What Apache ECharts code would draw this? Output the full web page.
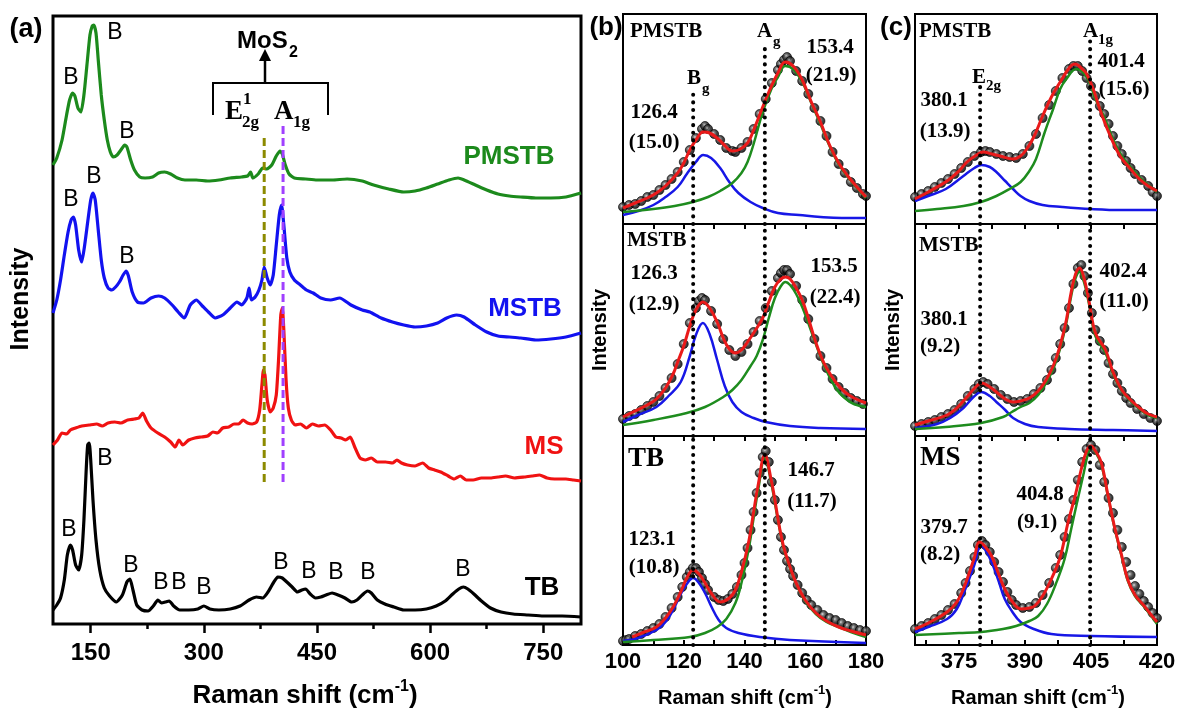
<!DOCTYPE html>
<html><head><meta charset="utf-8">
<script src="https://cdn.jsdelivr.net/npm/echarts@6/dist/echarts.min.js"></script>
<style>html,body{margin:0;padding:0;background:#fff}#c{width:1178px;height:711px}</style>
</head><body><div id="c"></div>
<script>
// ---------------- DATA ----------------
// Panel (a): Raman spectra, stacked (arbitrary offset intensity units)
const aTicks = [150, 300, 450, 600, 750];
const aMinorTicks = [225, 375, 525, 675];
const aPMSTB = [[100,459],[105,466],[112,484],[118,509],[122,524],[126,531],[129,528],[133,516],[137,512],[141,529],[145,559],[149,589],[152,598],[154,599],[157,591],[160,564],[164,529],[168,504],[172,484],[176,472],[180,467],[185,469],[190,474],[195,479],[198,477],[203,464],[208,454],[215,447],[222,446],[232,447],[240,451],[248,452],[256,450],[265,446],[275,444],[290,444],[305,443],[320,444],[335,446],[350,447],[358,448],[362,452],[365,446],[372,450],[378,456],[383,455],[390,459],[396,468],[401,473],[404,470],[408,459],[413,450],[420,446],[435,445],[450,444],[470,444],[490,445],[510,443],[525,439],[545,435],[565,432],[580,433],[595,436],[610,440],[625,444],[637,446],[645,444],[660,439],[675,434],[690,430],[705,428],[720,427],[740,426],[760,426],[780,427],[800,431]];
const aMSTB = [[100,311],[105,324],[110,344],[115,369],[120,392],[124,404],[127,407],[130,399],[134,374],[138,362],[142,379],[146,402],[150,424],[153,431],[156,424],[160,394],[164,364],[168,346],[173,336],[178,334],[183,337],[188,342],[193,349],[197,353],[200,348],[205,332],[212,322],[220,321],[230,326],[240,328],[248,326],[258,319],[266,312],[274,306],[282,319],[290,324],[298,318],[306,312],[315,306],[325,309],[335,316],[344,322],[350,319],[357,326],[360,336],[363,324],[368,327],[373,334],[377,344],[380,357],[384,346],[388,339],[392,349],[396,379],[400,409],[403,419],[406,399],[410,366],[414,352],[420,344],[428,339],[436,334],[445,331],[455,326],[468,324],[480,326],[495,319],[510,314],[520,312],[535,306],[550,302],[565,299],[580,297],[595,298],[610,301],[622,306],[635,309],[645,307],[660,299],[675,292],[690,288],[705,287],[720,286],[740,284],[760,285],[780,287],[800,291]];
const aMS = [[100,179],[106,184],[112,191],[118,190],[123,194],[130,196],[138,198],[148,199],[158,200],[165,198],[173,201],[182,202],[190,201],[199,204],[208,205],[214,206],[219,211],[224,203],[230,196],[239,191],[248,187],[256,182],[262,177],[267,184],[272,179],[280,184],[288,186],[296,187],[305,188],[312,192],[318,191],[325,196],[333,197],[340,200],[346,200],[352,204],[358,201],[364,200],[370,202],[374,214],[377,239],[379,254],[381,249],[384,224],[388,212],[392,216],[396,229],[399,264],[402,309],[404,316],[406,294],[409,244],[412,216],[416,204],[421,199],[428,200],[436,196],[444,200],[452,198],[460,199],[468,194],[475,187],[482,186],[488,184],[494,187],[500,177],[507,166],[514,164],[522,166],[530,162],[541,162],[550,161],[556,164],[562,161],[570,159],[580,158],[590,161],[598,156],[606,154],[614,152],[624,148],[632,145],[640,148],[648,144],[657,144],[668,146],[680,146],[690,147],[700,148],[712,146],[725,147],[735,148],[745,149],[755,146],[765,145],[780,145],[790,144],[800,143]];
const aTB = [[100,14],[105,19],[110,26],[115,44],[119,69],[123,79],[126,74],[130,59],[134,54],[138,69],[141,104],[144,154],[146,179],[148,181],[150,164],[153,124],[157,84],[162,54],[168,36],[175,28],[184,22],[192,29],[198,42],[202,45],[206,34],[211,19],[218,14],[226,13],[233,18],[239,24],[244,21],[249,22],[254,23],[260,18],[268,14],[280,14],[292,15],[300,18],[308,15],[320,14],[335,15],[348,18],[360,24],[370,27],[378,26],[385,32],[392,41],[398,47],[404,46],[410,42],[417,37],[424,32],[430,34],[435,35],[441,30],[448,26],[455,27],[462,29],[470,31],[478,29],[487,26],[496,22],[503,24],[510,29],[517,33],[522,31],[530,24],[540,20],[552,17],[565,14],[580,14],[595,15],[608,18],[620,23],[630,30],[638,35],[644,37],[650,35],[658,30],[668,23],[680,16],[694,12],[710,10],[730,9],[750,8],[775,8],[800,7]];
const aModeX = [380, 405];        // E2g, A1g mode positions (cm-1)
const aModeTop = [486, 502];      // top of the dashed guides
const aModeBottom = 142;

// Panel (b): 100-180 cm-1 fits
const bTicks = [110, 120, 130, 140, 150, 160, 170];
const bTickLabels = [100, 120, 140, 160, 180];
const bModeX = [123.1, 146.7];    // Bg, Ag
const bModeTop = [131, 179];
const bPmstbPts = [[100,17],[102,19],[104,20],[106,23],[108,27],[110,29],[112,34],[114,39],[116,45],[118,52],[120,62],[122,74],[124,86],[126,95],[127,98],[128,95],[130,90],[132,84],[134,76],[136,73],[137,72],[139,76],[141,82],[143,95],[145,110],[147,125],[149,141],[151,154],[152,160],[153,164],[154,167],[155,163],[157,153],[159,143],[161,130],[163,116],[165,103],[167,88],[169,72],[171,60],[173,51],[175,42],[177,36],[179,30],[180,28]];
const bPmstbRed = [[100,16],[104,21],[108,26],[111,31],[114,38],[118,51],[120,61],[122,74],[124,84],[126.4,92],[128.5,91],[131,86],[133,80],[136,73],[138,74],[141,81],[143,94],[146,117],[148,132],[151,151],[153.4,162],[156,158],[159,144],[162,122],[165,102],[168,79],[171,61],[174,48],[177,37],[180,27]];
const bPmstbBlue = [[100,9],[105,13],[110,19],[114,27],[118,37],[121,50],[124,62],[126.4,69],[129,66],[132,56],[135,42],[138,31],[142,22],[146,16],[151,11],[158,9],[165,7],[172,6],[180,6]];
const bPmstbGreen = [[100,12],[110,15],[117,18],[123,22],[128,27],[132,33],[136,41],[139,51],[141,62],[143,80],[146,112],[149,136],[151,147],[153.4,158],[156,155],[159,142],[162,121],[165,100],[168,78],[171,60],[174,47],[177,36],[180,26]];

const bMstbPts = [[100,17],[102,20],[104,22],[106,26],[108,30],[110,34],[112,40],[114,48],[116,58],[118,72],[120,92],[122,113],[124,128],[125,135],[126,138],[127,136],[129,125],[131,112],[133,97],[135,86],[137,80],[139,84],[141,92],[143,104],[145,115],[147,128],[149,145],[151,158],[152,163],[153,166],[154,166],[155,162],[157,150],[159,136],[161,117],[163,97],[165,80],[167,68],[169,57],[171,49],[173,43],[175,38],[177,35],[179,32]];
const bMstbRed = [[100,19],[104,25],[108,31],[111,37],[114,48],[116.5,62],[118,74],[120,90],[122,110],[124,126],[126.3,134],[128.5,128],[131,114],[133,98],[135,87],[137,83],[139,86],[141,94],[143,103],[146,118],[148,134],[150,149],[152,157],[153.5,159],[155,157],[157,148],[159,136],[161,118],[163,98],[165,81],[167,68],[170,54],[173,44],[176,38],[180,33]];
const bMstbBlue = [[100,14],[105,21],[111,29],[115,40],[119,54],[122,80],[124,101],[126.3,113],[128.5,102],[131,76],[133.5,50],[136,34],[139,24],[143,18],[147,14],[155,10],[165,8],[180,7]];
const bMstbGreen = [[100,11],[110,16],[121,23],[127,29],[133,39],[136,46],[139,56],[142,70],[144,80],[146,96],[148,118],[150,138],[152,150],[153.5,154],[155,151],[157,142],[159,129],[161,113],[163,96],[166,72],[170,48],[173,38],[176,32],[180,29]];

const bTbPts = [[100,4],[101,5],[102,6],[104,9],[106,11],[108,14],[110,17],[112,21],[114,28],[116,37],[118,48],[119.5,58],[121,68],[122,73],[123,77],[124,77],[125,73],[126,67],[127,61],[128,55],[130,48],[131.5,45],[133,44],[134.5,46],[136,51],[137.5,58],[139,70],[140,82],[141,97],[142,115],[143,133],[144,152],[145,172],[146,188],[147,194],[148,183],[149,163],[150,145],[151,125],[152,108],[153,95],[154,84],[155,76],[156,69],[157.5,60],[159,52],[160.5,45],[162,40],[164,35],[166,30],[168,27],[170,25],[172,22],[174,19],[176,17],[178,15],[180,14]];
const bTbRed = [[103,8],[107,13],[111,18],[114,27],[116.5,38],[119,53],[121,67],[123.1,75],[125,71],[127,62],[129,52],[132,43],[135,47],[137,55],[139,73],[141.5,105],[143,133],[144.5,160],[146.7,190],[148.8,165],[150,145],[151.5,118],[153,97],[155,78],[157,62],[160,45],[163.5,32],[167,24],[171,18],[175,14],[180,10]];
const bTbBlue = [[100,4],[105,7],[111,15],[114,23],[116.5,35],[119,51],[121,61],[123.1,67],[125,62],[127,52],[129,39],[131.5,25],[134,17],[138,12],[145,8],[155,5],[180,2]];
const bTbGreen = [[100,3],[110,5],[122,8],[127,12],[131,18],[134,26],[137,42],[139,62],[141.5,98],[143,127],[144.5,155],[146.7,187],[148.8,162],[150,142],[151.5,117],[153,95],[155,77],[157,61],[160,44],[163.5,31],[167,23],[171,18],[175,13],[180,8]];

// Panel (c): 365-420 cm-1 fits
const cTicks = [367.5, 375, 382.5, 390, 397.5, 405, 412.5];
const cTickLabels = [375, 390, 405, 420];
const cModeX = [379.8, 404.8];    // E2g, A1g
const cModeTop = [138, 183];
const cPmstbPts = [[365,27],[366.5,30],[368,33],[369.5,37],[371,41],[372.5,45],[374,50],[375.5,56],[377,62],[378.5,68],[380,72],[381,73],[382,72],[383.5,70],[385,68],[386.5,67],[388,66],[389.5,70],[391,78],[392.5,90],[394,106],[395.5,119],[397,133],[398.5,146],[400,155],[401,158],[402,158],[403,153],[404,146],[405,138],[406,128],[407,118],[408,110],[409,100],[410,88],[411,78],[412,70],[413,63],[414,56],[415,50],[416.5,44],[418,38],[419,32],[420,28]];
const cPmstbRed = [[365,25],[368,32],[372.3,43],[375,53],[376.8,62],[379,69],[380.5,72],[382.5,70],[384.3,68],[387.3,65],[389,68],[390.4,75],[392,87],[394,108],[396,127],[398,142],[400.2,157],[401.4,160],[403,155],[404,150],[405.5,135],[407,115],[409,92],[411.6,68],[414,55],[416,45],[418,38],[420,33]];
const cPmstbBlue = [[365,23],[368,28],[372,35],[376,48],[378.5,56],[380.1,59],[382,57],[383.5,52],[385.5,43],[387.3,35],[389,28],[391,23],[394,19],[398.5,17],[405,15],[412,14],[420,14]];
const cPmstbGreen = [[365,13],[370,15],[376,18],[380,22],[383.5,28],[386.5,35],[389,42],[391,53],[392.5,65],[394.5,92],[396.4,115],[398,135],[399.4,145],[401.6,155],[404,147],[406,125],[408,107],[410,85],[412,68],[414,57],[416,47],[418,39],[420,32]];

const cMstbPts = [[365,10],[366.5,12],[368,14],[369.5,16],[371,19],[372.5,22],[374,26],[375.5,32],[377,40],[378.5,47],[379.5,52],[380.5,54],[381.5,52],[383,47],[384.5,41],[386,37],[387.5,34],[389,35],[390.5,37],[392,42],[393.5,48],[395,56],[396,66],[397,78],[398,92],[399,108],[400,128],[401,152],[402,168],[402.8,171],[403.5,160],[404.3,143],[405.2,123],[406,106],[407,95],[408,86],[409,73],[410,62],[411,53],[412,45],[413,38],[414,33],[415.5,27],[417,22],[418.5,18],[420,15]];
const cMstbRed = [[365,11],[368,15],[372.3,21],[374.5,28],[376.8,39],[378.8,49],[380.1,53],[382,49],[383.5,44],[385.5,37],[387.3,34],[389,35],[391,38],[393,45],[394.8,56],[396.5,71],[397.9,89],[399.4,116],[400.5,144],[401.5,162],[402.4,168],[403.4,158],[404.5,136],[406,103],[408.3,86],[410,64],[412,46],[414,36],[416.6,26],[418,22],[420,19]];
const cMstbBlue = [[365,8],[370,12],[373,18],[376,28],[378.3,39],[380.1,44],[382,40],[383.5,34],[385.5,26],[387.3,18],[390,12],[393,9],[400,7],[410,6],[420,5]];
const cMstbGreen = [[365,7],[372,9],[380,13],[385,19],[387,24],[389,29],[391,33],[393,41],[394.8,53],[396.5,68],[397.9,86],[399.4,113],[400.5,140],[401.5,158],[402.4,164],[403.4,154],[404.5,133],[406,100],[408.3,83],[410,62],[412,45],[414,35],[416.6,25],[418,21],[420,18]];

const cMsPts = [[365,16],[366.5,19],[368,22],[369.5,26],[371,30],[372.5,35],[374,41],[375.5,52],[376.5,62],[377.5,74],[378.5,88],[379.3,100],[380.2,104],[381,100],[382,93],[383,83],[384,73],[385,63],[386,53],[387,45],[388,40],[389.5,37],[391,38],[392.5,42],[394,50],[395.5,62],[397,77],[398,90],[399,108],[400,126],[401,145],[402,165],[403,183],[404,196],[405,200],[406,195],[407,180],[408,163],[409,147],[410,132],[411,115],[412,98],[413,83],[414,70],[415,59],[416,51],[417,44],[418,38],[419,32],[420,27]];
const cMsRed = [[365,16],[368,22],[372.3,33],[374.5,43],[376,56],[378.4,86],[379.7,103],[381,98],[382.4,89],[384,71],[385.4,56],[387,44],[389.1,36],[391,37],[392.2,39],[394,49],[396,66],[398,88],[399.8,123],[401.5,151],[402.8,176],[404,194],[405,199],[406,194],[407.3,183],[408.8,151],[410.3,119],[412,89],[413.3,66],[415,50],[417.1,39],[418.5,31],[420,23]];
const cMsBlue = [[365,13],[368,18],[372.3,26],[374.5,36],[376,51],[378.4,79],[380,99],[381,95],[382.4,83],[384,64],[385.4,46],[387,34],[389,23],[392,16],[396,11],[405,9],[420,8]];
const cMsGreen = [[365,10],[375,12],[380,13],[385,16],[388,19],[391,24],[393,29],[395,41],[397,61],[399,86],[400.5,116],[402,146],[403.2,169],[404.3,191],[405,198],[406,193],[407.3,181],[408.8,150],[410.3,118],[412,88],[413.3,65],[415,49],[417.1,38],[418.5,30],[420,21]];

// ---------------- CHART ----------------
const SANS = '"Liberation Sans", Arial, sans-serif';
const SERIF = '"Liberation Serif", "Times New Roman", serif';
const A_GREEN = '#1c8a1c', A_BLUE = '#1212f0', A_RED = '#f01212', A_BLACK = '#000';
const F_RED = '#ea1a1a', F_GREEN = '#1e8c1e', F_BLUE = '#1717e6';

const chart = echarts.init(document.getElementById('c'), null, {renderer: 'canvas'});

const gridBox = (left, top, width, height, bw) => ({left, top, width, height, show: true, borderColor: '#000', borderWidth: bw, outerBoundsMode: 'none', containLabel: false});
const grids = [
  gridBox(53, 16, 528, 608, 3),
  gridBox(623, 14, 243, 210, 2), gridBox(623, 224, 243, 212, 2), gridBox(623, 436, 243, 209, 2),
  gridBox(915, 14, 242, 210, 2), gridBox(915, 224, 242, 212, 2), gridBox(915, 436, 242, 209, 2)
];
const yMax = [608, 210, 212, 209, 210, 212, 209];
const yAxes = yMax.map((m, i) => ({gridIndex: i, type: 'value', min: 0, max: m, show: false}));

const tickStyle = {color: '#000', width: 2};
const labelStyle = (size) => ({fontFamily: SANS, fontWeight: 'bold', fontSize: size, color: '#000'});
const xAxes = [
  {gridIndex: 0, type: 'value', min: 100, max: 800, position: 'bottom',
   axisLine: {show: false}, splitLine: {show: false},
   axisTick: {show: true, customValues: aTicks, length: 9, inside: false, lineStyle: {color: '#000', width: 2.5}},
   axisLabel: Object.assign({show: true, customValues: aTicks, margin: 17, showMinLabel: true, showMaxLabel: true}, labelStyle(24))},
  {gridIndex: 0, type: 'value', min: 100, max: 800, position: 'top', offset: -608,
   axisLine: {show: false}, splitLine: {show: false}, axisLabel: {show: false},
   axisTick: {show: true, customValues: aMinorTicks, length: 5, inside: true, lineStyle: {color: '#000', width: 2.5}}}
];
function subX(grid, min, max, ticks, labels, bottom) {
  return {gridIndex: grid, type: 'value', min, max, position: 'bottom',
    axisLine: {show: false}, splitLine: {show: false},
    axisTick: {show: true, customValues: ticks, length: 5, inside: bottom, lineStyle: tickStyle},
    axisLabel: bottom ? Object.assign({show: true, customValues: labels, margin: 6, showMinLabel: true, showMaxLabel: true}, labelStyle(22)) : {show: false}};
}
xAxes.push(subX(1, 100, 180, bTicks, bTickLabels, false));
xAxes.push(subX(2, 100, 180, bTicks, bTickLabels, false));
xAxes.push(subX(3, 100, 180, bTicks, bTickLabels, true));
xAxes.push(subX(4, 365, 420, cTicks, cTickLabels, false));
xAxes.push(subX(5, 365, 420, cTicks, cTickLabels, false));
xAxes.push(subX(6, 365, 420, cTicks, cTickLabels, true));

const xIdx = (g) => g === 0 ? 0 : g + 1;
const series = [];
function line(g, data, color, width, smooth, extra) {
  series.push(Object.assign({type: 'line', xAxisIndex: xIdx(g), yAxisIndex: g, data, symbol: 'none', smooth,
    lineStyle: {color, width}, silent: true, z: 3}, extra || {}));
}
const dotFill = new echarts.graphic.RadialGradient(0.4, 0.4, 0.6, [
  {offset: 0, color: '#d8d8d8'}, {offset: 0.25, color: '#666'}, {offset: 0.6, color: '#151515'}, {offset: 1, color: '#000'}]);
function pts(g, data) {
  series.push({type: 'scatter', xAxisIndex: xIdx(g), yAxisIndex: g, data, symbol: 'circle', symbolSize: 9,
    itemStyle: {color: dotFill, borderColor: '#000', borderWidth: 0.8}, silent: true, z: 2});
}
function guide(g, x, y0, y1, style) {
  series.push({type: 'line', xAxisIndex: xIdx(g), yAxisIndex: g, data: [[x, y0], [x, y1]], symbol: 'none',
    lineStyle: style, silent: true, z: 6});
}

// panel (a)
line(0, aPMSTB, A_GREEN, 3.2, 0.2);
line(0, aMSTB, A_BLUE, 3.2, 0.2);
line(0, aMS, A_RED, 3.2, 0.2);
line(0, aTB, A_BLACK, 3.2, 0.2);
guide(0, aModeX[0], aModeBottom, aModeTop[0], {color: '#8c8a00', width: 3, type: [8, 4]});
guide(0, aModeX[1], aModeBottom, aModeTop[1], {color: '#a040ff', width: 3, type: [8, 4]});

// panels (b),(c)
const dotted = {color: '#000', width: 4, type: [0.1, 7.5], cap: 'round'};
const sets = [
  [1, bPmstbPts, bPmstbBlue, bPmstbGreen, bPmstbRed],
  [2, bMstbPts, bMstbBlue, bMstbGreen, bMstbRed],
  [3, bTbPts, bTbBlue, bTbGreen, bTbRed],
  [4, cPmstbPts, cPmstbBlue, cPmstbGreen, cPmstbRed],
  [5, cMstbPts, cMstbBlue, cMstbGreen, cMstbRed],
  [6, cMsPts, cMsBlue, cMsGreen, cMsRed]
];
sets.forEach(([g, p, b, gr, r]) => {
  pts(g, p);
  line(g, b, F_BLUE, 2.5, 0.4);
  line(g, gr, F_GREEN, 2.5, 0.4);
  line(g, r, F_RED, 3, 0.4);
});
[1, 2, 3].forEach(g => bModeX.forEach((x, i) => guide(g, x, 0, g === 1 ? bModeTop[i] : yMax[g], dotted)));
[4, 5, 6].forEach(g => cModeX.forEach((x, i) => guide(g, x, 0, g === 4 ? cModeTop[i] : yMax[g], dotted)));

// ---------------- TEXT ----------------
const G = [];
function txt(x, y, text, font, fill, align, extra) {
  G.push(Object.assign({type: 'text', x, y, silent: true, z: 100,
    style: {text, font, fill: fill || '#000', align: align || 'center', verticalAlign: 'middle'}}, extra || {}));
}
const bS = (s) => 'bold ' + s + 'px ' + SANS;
const nS = (s) => s + 'px ' + SANS;
const bT = (s) => 'bold ' + s + 'px ' + SERIF;

// panel tags
txt(26, 30, '(a)', bS(27));
txt(606, 28, '(b)', bS(26));
txt(896, 28, '(c)', bS(26));

// panel (a) labels
txt(509, 157, 'PMSTB', bS(26), A_GREEN);
txt(525, 309, 'MSTB', bS(26), A_BLUE);
txt(544, 447, 'MS', bS(26), A_RED);
txt(542, 588, 'TB', bS(26), A_BLACK);
[[71,78],[115,33],[127,132],[71,200],[94,177],[127,257],[69,530],[105,459],[131,566],[161,583],[179,583],[204,588],[281,563],[309,572],[336,573],[368,573],[463,570]]
  .forEach(([x, y]) => txt(x, y, 'B', nS(23)));
txt(237, 41, 'MoS', bS(24), '#000', 'left');
txt(289, 53, '2', bS(16), '#000', 'left');
G.push({type: 'polyline', silent: true, shape: {points: [[213, 115], [213, 83], [328, 83], [328, 115]]}, style: {stroke: '#000', lineWidth: 2, fill: null}});
G.push({type: 'line', silent: true, shape: {x1: 265, y1: 83, x2: 265, y2: 58}, style: {stroke: '#000', lineWidth: 2.5}});
G.push({type: 'polygon', silent: true, shape: {points: [[265, 49], [259, 61], [271, 61]]}, style: {fill: '#000'}});
txt(225, 112, 'E', bT(27), '#000', 'left');
txt(243, 100, '1', bT(17), '#000', 'left');
txt(242, 123, '2g', bT(17), '#000', 'left');
txt(274, 112, 'A', bT(27), '#000', 'left');
txt(293, 123, '1g', bT(17), '#000', 'left');
txt(21, 299, 'Intensity', bS(25), '#000', 'center', {rotation: Math.PI / 2});
G.push({type: 'text', x: 305, y: 694, silent: true, style: {
  text: '{a|Raman shift (cm}{s|-1}{a|)}', align: 'center', verticalAlign: 'middle',
  rich: {a: {font: bS(26), fill: '#000', lineHeight: 30, verticalAlign: 'bottom'},
         s: {font: bS(16), fill: '#000', lineHeight: 18, verticalAlign: 'top'}}}});

// panel (b) labels
txt(630, 32, 'PMSTB', bT(21), '#000', 'left');
txt(757, 32, 'A', bT(21), '#000', 'left');
txt(773, 42, 'g', bT(15), '#000', 'left');
txt(687, 79, 'B', bT(21), '#000', 'left');
txt(702, 89, 'g', bT(15), '#000', 'left');
txt(830, 48, '153.4', bT(21));
txt(831, 76, '(21.9)', bT(21));
txt(654, 113, '126.4', bT(21));
txt(654, 143, '(15.0)', bT(21));
txt(627, 241, 'MSTB', bT(21), '#000', 'left');
txt(654, 274, '126.3', bT(21));
txt(654, 305, '(12.9)', bT(21));
txt(834, 267, '153.5', bT(21));
txt(835, 298, '(22.4)', bT(21));
txt(628, 459, 'TB', bT(27), '#000', 'left');
txt(811, 471, '146.7', bT(21));
txt(812, 502, '(11.7)', bT(21));
txt(652, 540, '123.1', bT(21));
txt(654, 568, '(10.8)', bT(21));
txt(600, 330, 'Intensity', bS(20), '#000', 'center', {rotation: Math.PI / 2});
G.push({type: 'text', x: 745, y: 696, silent: true, style: {
  text: '{a|Raman shift (cm}{s|-1}{a|)}', align: 'center', verticalAlign: 'middle',
  rich: {a: {font: bS(20), fill: '#000', lineHeight: 24, verticalAlign: 'bottom'},
         s: {font: bS(13), fill: '#000', lineHeight: 14, verticalAlign: 'top'}}}});

// panel (c) labels
txt(919, 32, 'PMSTB', bT(21), '#000', 'left');
txt(1083, 32, 'A', bT(21), '#000', 'left');
txt(1098, 40, '1g', bT(15), '#000', 'left');
txt(972, 78, 'E', bT(21), '#000', 'left');
txt(986, 86, '2g', bT(15), '#000', 'left');
txt(1121, 62, '401.4', bT(21));
txt(1124, 90, '(15.6)', bT(21));
txt(944, 101, '380.1', bT(21));
txt(945, 132, '(13.9)', bT(21));
txt(919, 246, 'MSTB', bT(21), '#000', 'left');
txt(1123, 272, '402.4', bT(21));
txt(1124, 302, '(11.0)', bT(21));
txt(944, 320, '380.1', bT(21));
txt(940, 347, '(9.2)', bT(21));
txt(920, 458, 'MS', bT(27), '#000', 'left');
txt(1040, 495, '404.8', bT(21));
txt(1037, 523, '(9.1)', bT(21));
txt(944, 528, '379.7', bT(21));
txt(940, 555, '(8.2)', bT(21));
txt(893, 330, 'Intensity', bS(20), '#000', 'center', {rotation: Math.PI / 2});
G.push({type: 'text', x: 1038, y: 696, silent: true, style: {
  text: '{a|Raman shift (cm}{s|-1}{a|)}', align: 'center', verticalAlign: 'middle',
  rich: {a: {font: bS(20), fill: '#000', lineHeight: 24, verticalAlign: 'bottom'},
         s: {font: bS(13), fill: '#000', lineHeight: 14, verticalAlign: 'top'}}}});

chart.setOption({
  animation: false,
  backgroundColor: '#fff',
  grid: grids,
  xAxis: xAxes,
  yAxis: yAxes,
  series,
  graphic: G
});
</script>
</body></html>
